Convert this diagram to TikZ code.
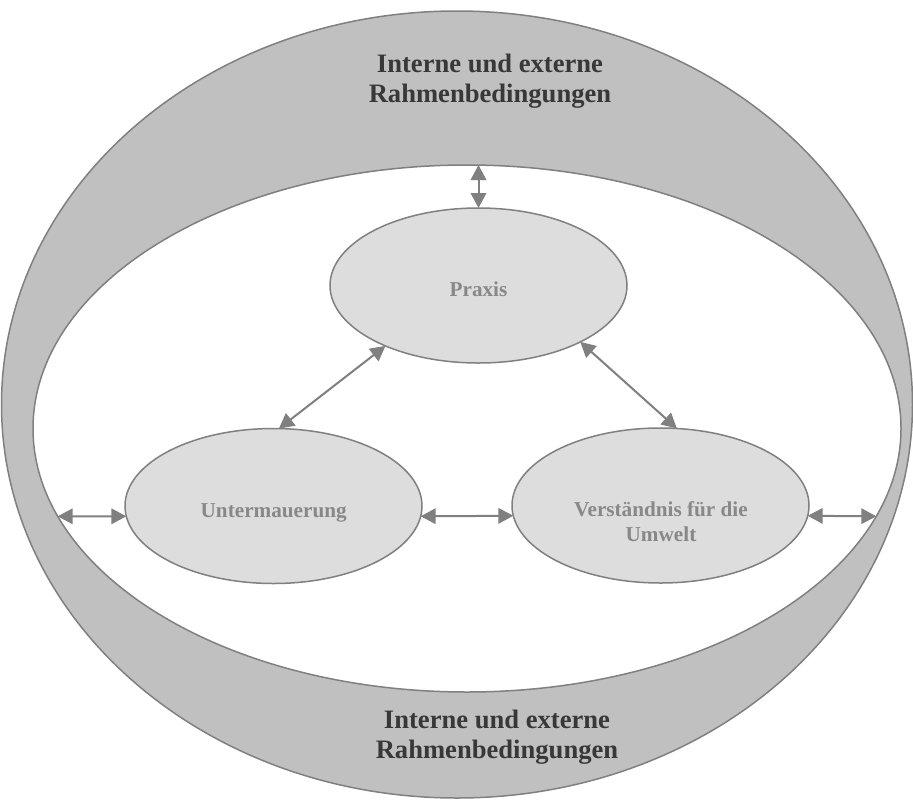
\documentclass[tikz,border=0pt]{standalone}
\usepackage{fontspec}
\setmainfont{Liberation Serif}
\usetikzlibrary{arrows.meta,shapes.geometric}
\definecolor{band}{HTML}{C0C0C0}
\definecolor{edge}{HTML}{808080}
\definecolor{bubble}{HTML}{DDDDDD}
\definecolor{titletxt}{HTML}{383838}
\definecolor{lbltxt}{HTML}{888888}
\begin{document}
\begin{tikzpicture}[x=1pt,y=-1pt,
  ring/.style={ellipse, draw=edge, line width=1.5pt, inner sep=0pt, outer sep=0pt},
  bubblenode/.style={ellipse, draw=edge, fill=bubble, line width=1.5pt, minimum width=297pt, minimum height=155pt, inner sep=0pt, outer sep=0pt},
  ttl/.style={font=\fontsize{26.6}{30}\selectfont\bfseries, text=titletxt, align=center, inner sep=0pt},
  lbl/.style={font=\fontsize{21.2}{25}\selectfont\bfseries, text=lbltxt, align=center, inner sep=0pt},
  link/.style={draw=edge, line width=2pt, {Triangle[length=15pt,width=15.5pt]}-{Triangle[length=15pt,width=15.5pt]}}
]
\useasboundingbox (0,0) rectangle (913,801);
\node[ring, fill=band, minimum width=911pt, minimum height=787pt] (O) at (457,404.5) {};
\node[ring, fill=white, minimum width=868pt, minimum height=527pt] (I) at (467,428.5) {};
\node[bubblenode] (P) at (478.5,285.5) {};
\node[bubblenode] (U) at (273.5,506) {};
\node[bubblenode] (V) at (660.5,505.5) {};
\coordinate (Il) at ([shift={(-409.3,87.8)}]I.center);
\coordinate (Ir) at ([shift={(409.3,87.8)}]I.center);
\node[ttl] (T1) at (490,81) {Interne und externe\\Rahmenbedingungen};
\node[ttl] (T2) at (497,737) {Interne und externe\\Rahmenbedingungen};
\node[lbl, anchor=base] (Pt) at (478.5,296) {Praxis};
\node[lbl, anchor=base] (Ut) at (273.7,517) {Untermauerung};
\node[lbl] (Vt) at (661,521.7) {Verständnis für die\\Umwelt};
\draw[link] (P.north |- I.north) -- (P.north);
\draw[link] (P.213) -- (U.86);
\draw[link] (P.331) -- (V.78);
\draw[link] (U.356) -- (V.184);
\draw[link] (Il) -- (U.184);
\draw[link] (V.356) -- (Ir);
\end{tikzpicture}
\end{document}
